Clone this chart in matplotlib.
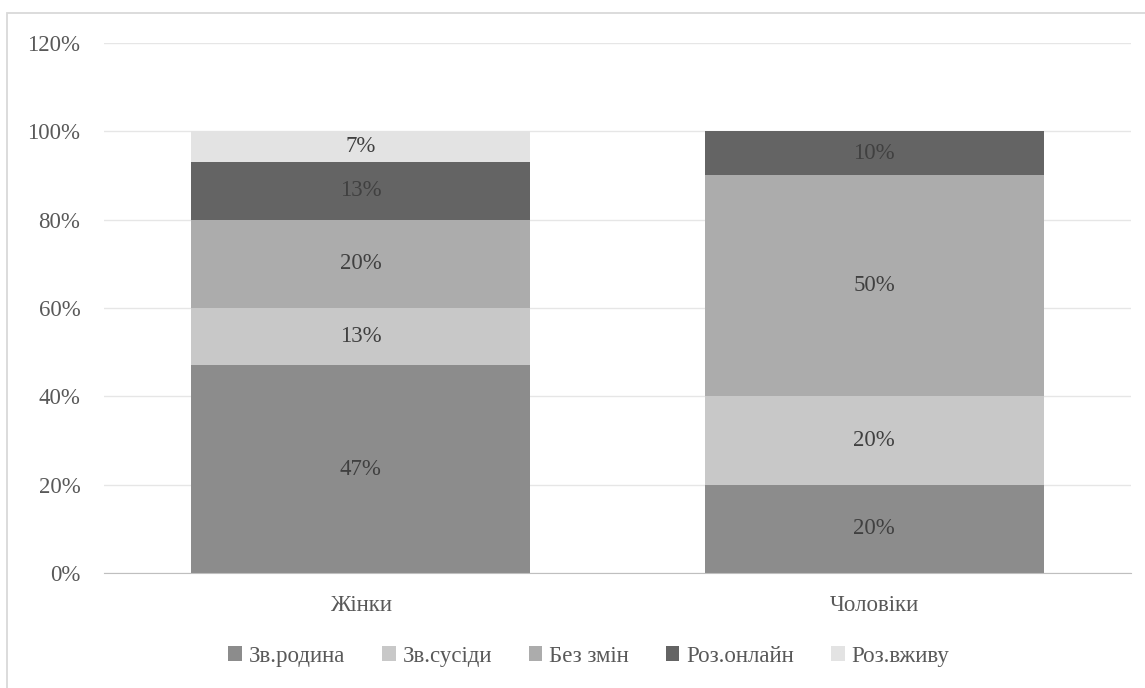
import matplotlib.pyplot as plt
import numpy as np

# дані з діаграми
categories = ['Жінки', 'Чоловіки']
series_names = ['Зв.родина', 'Зв.сусіди', 'Без змін', 'Роз.онлайн', 'Роз.вживу']
zv_rodyna = [47, 20]
zv_susidy = [13, 20]
bez_zmin = [20, 50]
roz_online = [13, 10]
roz_vzhyvu = [7, 0]
y_ticks = [0, 20, 40, 60, 80, 100, 120]

series = [zv_rodyna, zv_susidy, bez_zmin, roz_online, roz_vzhyvu]
colors = ['#8c8c8c', '#c8c8c8', '#acacac', '#646464', '#e3e3e3']
text_col = '#404040'
fs = 16.5

plt.rcParams['font.family'] = ['Liberation Serif', 'DejaVu Serif']

fig = plt.figure(figsize=(11.45, 6.88), dpi=100)
ax = fig.add_axes([0.0908, 0.1672, 0.897, 0.7703])

x = np.arange(len(categories))
bottom = np.zeros(len(categories))
for name, vals, c in zip(series_names, series, colors):
    vals = np.array(vals, dtype=float)
    ax.bar(x, vals, 0.66, bottom=bottom, color=c, label=name, zorder=2)
    for xi, v, b in zip(x, vals, bottom):
        if v > 0:
            ax.text(xi, b + v / 2, f'{int(v)}%', ha='center', va='center',
                    fontsize=fs, color=text_col, zorder=3)
    bottom += vals

ax.set_xlim(-0.5, 1.5)
ax.set_ylim(0, 120)
ax.set_yticks(y_ticks)
ax.set_yticklabels([f'{t}%' for t in y_ticks], fontsize=fs, color='#595959')
ax.set_xticks(x)
ax.set_xticklabels(categories, fontsize=fs, color='#595959')
ax.tick_params(length=0)
ax.tick_params(axis='x', pad=16)
ax.tick_params(axis='y', pad=17)
ax.grid(axis='y', color='#e6e6e6', linewidth=1, zorder=0)
for s in ['top', 'right', 'left']:
    ax.spines[s].set_visible(False)
ax.spines['bottom'].set_color('#bfbfbf')

ax.legend(loc='center', bbox_to_anchor=(0.472, -0.157), ncol=5, frameon=False,
          fontsize=fs, handlelength=0.6, handleheight=0.6, handletextpad=0.3,
          columnspacing=1.6, labelcolor='#595959')

# рамка навколо області діаграми (права й нижня сторони поза кадром)
fig.patches.append(plt.Rectangle((0.0061, -0.02), 1.0, 1.001, transform=fig.transFigure,
                                 fill=False, edgecolor='#d9d9d9', linewidth=1.3))

fig.savefig('out.png', dpi=100)
